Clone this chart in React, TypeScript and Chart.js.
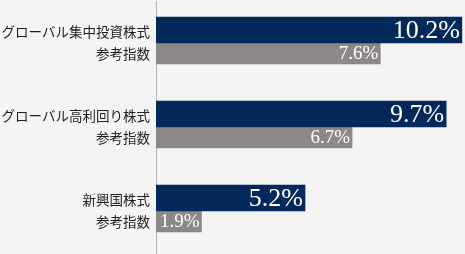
import React, { useEffect, useRef } from "react";
import { Chart, registerables } from "chart.js";

Chart.register(...registerables);

const fundNames = ["グローバル集中投資株式", "グローバル高利回り株式", "新興国株式"];
const indexName = "参考指数";
const fundValues = [10.2, 9.7, 5.2];
const indexValues = [7.6, 6.7, 1.9];

const NAVY = "#03295a";
const GRAY = "#8c8887";
const BG = "#f4f4f4";

const valueLabels = {
  id: "valueLabels",
  afterDatasetsDraw(chart: any) {
    const ctx = chart.ctx;
    ctx.save();
    ctx.fillStyle = "#ffffff";
    ctx.textAlign = "right";
    ctx.textBaseline = "middle";
    chart.data.datasets.forEach((ds: any, di: number) => {
      const meta = chart.getDatasetMeta(di);
      ctx.font = di === 0 ? "26px 'Liberation Serif', 'Times New Roman', serif" : "19px 'Liberation Serif', 'Times New Roman', serif";
      meta.data.forEach((bar: any, i: number) => {
        const v = ds.data[i];
        ctx.fillText(v.toFixed(1) + "%", bar.x - 2, bar.y + 1);
      });
    });
    ctx.restore();
  },
};

export default function App() {
  const ref = useRef<HTMLCanvasElement>(null);
  useEffect(() => {
    if (!ref.current) return;
    const chart = new Chart(ref.current, {
      type: "bar",
      data: {
        labels: fundNames.map((n) => [n, indexName]),
        datasets: [
          { label: "fund", data: fundValues, backgroundColor: NAVY, barThickness: 26 },
          { label: "index", data: indexValues, backgroundColor: GRAY, barThickness: 21 },
        ],
      },
      options: {
        indexAxis: "y",
        responsive: false,
        maintainAspectRatio: false,
        animation: false,
        layout: { padding: { top: 1, bottom: 1, left: 0, right: 0 } },
        plugins: { legend: { display: false }, tooltip: { enabled: false } },
        scales: {
          x: { display: false, min: 0.45, max: 10.3 },
          y: {
            grid: { display: false, drawTicks: false },
            border: { display: true, color: "#b4b4b4", width: 1 },
            ticks: {
              padding: 6,
              color: "#1e1e1e",
              font: { family: "'Noto Sans CJK JP', 'Noto Sans', sans-serif", size: 13.5, lineHeight: 22.5 / 13.5 },
            },
            afterFit: (scale: any) => {
              scale.width = 156;
              scale.paddingTop = 0;
              scale.paddingBottom = 0;
            },
          },
        },
      },
      plugins: [valueLabels],
    } as any);
    return () => chart.destroy();
  }, []);
  return (
    <div style={{ position: "absolute", left: 0, top: 0, width: 465, height: 254, background: BG }}>
      <canvas ref={ref} width={465} height={254} style={{ display: "block" }} />
    </div>
  );
}
